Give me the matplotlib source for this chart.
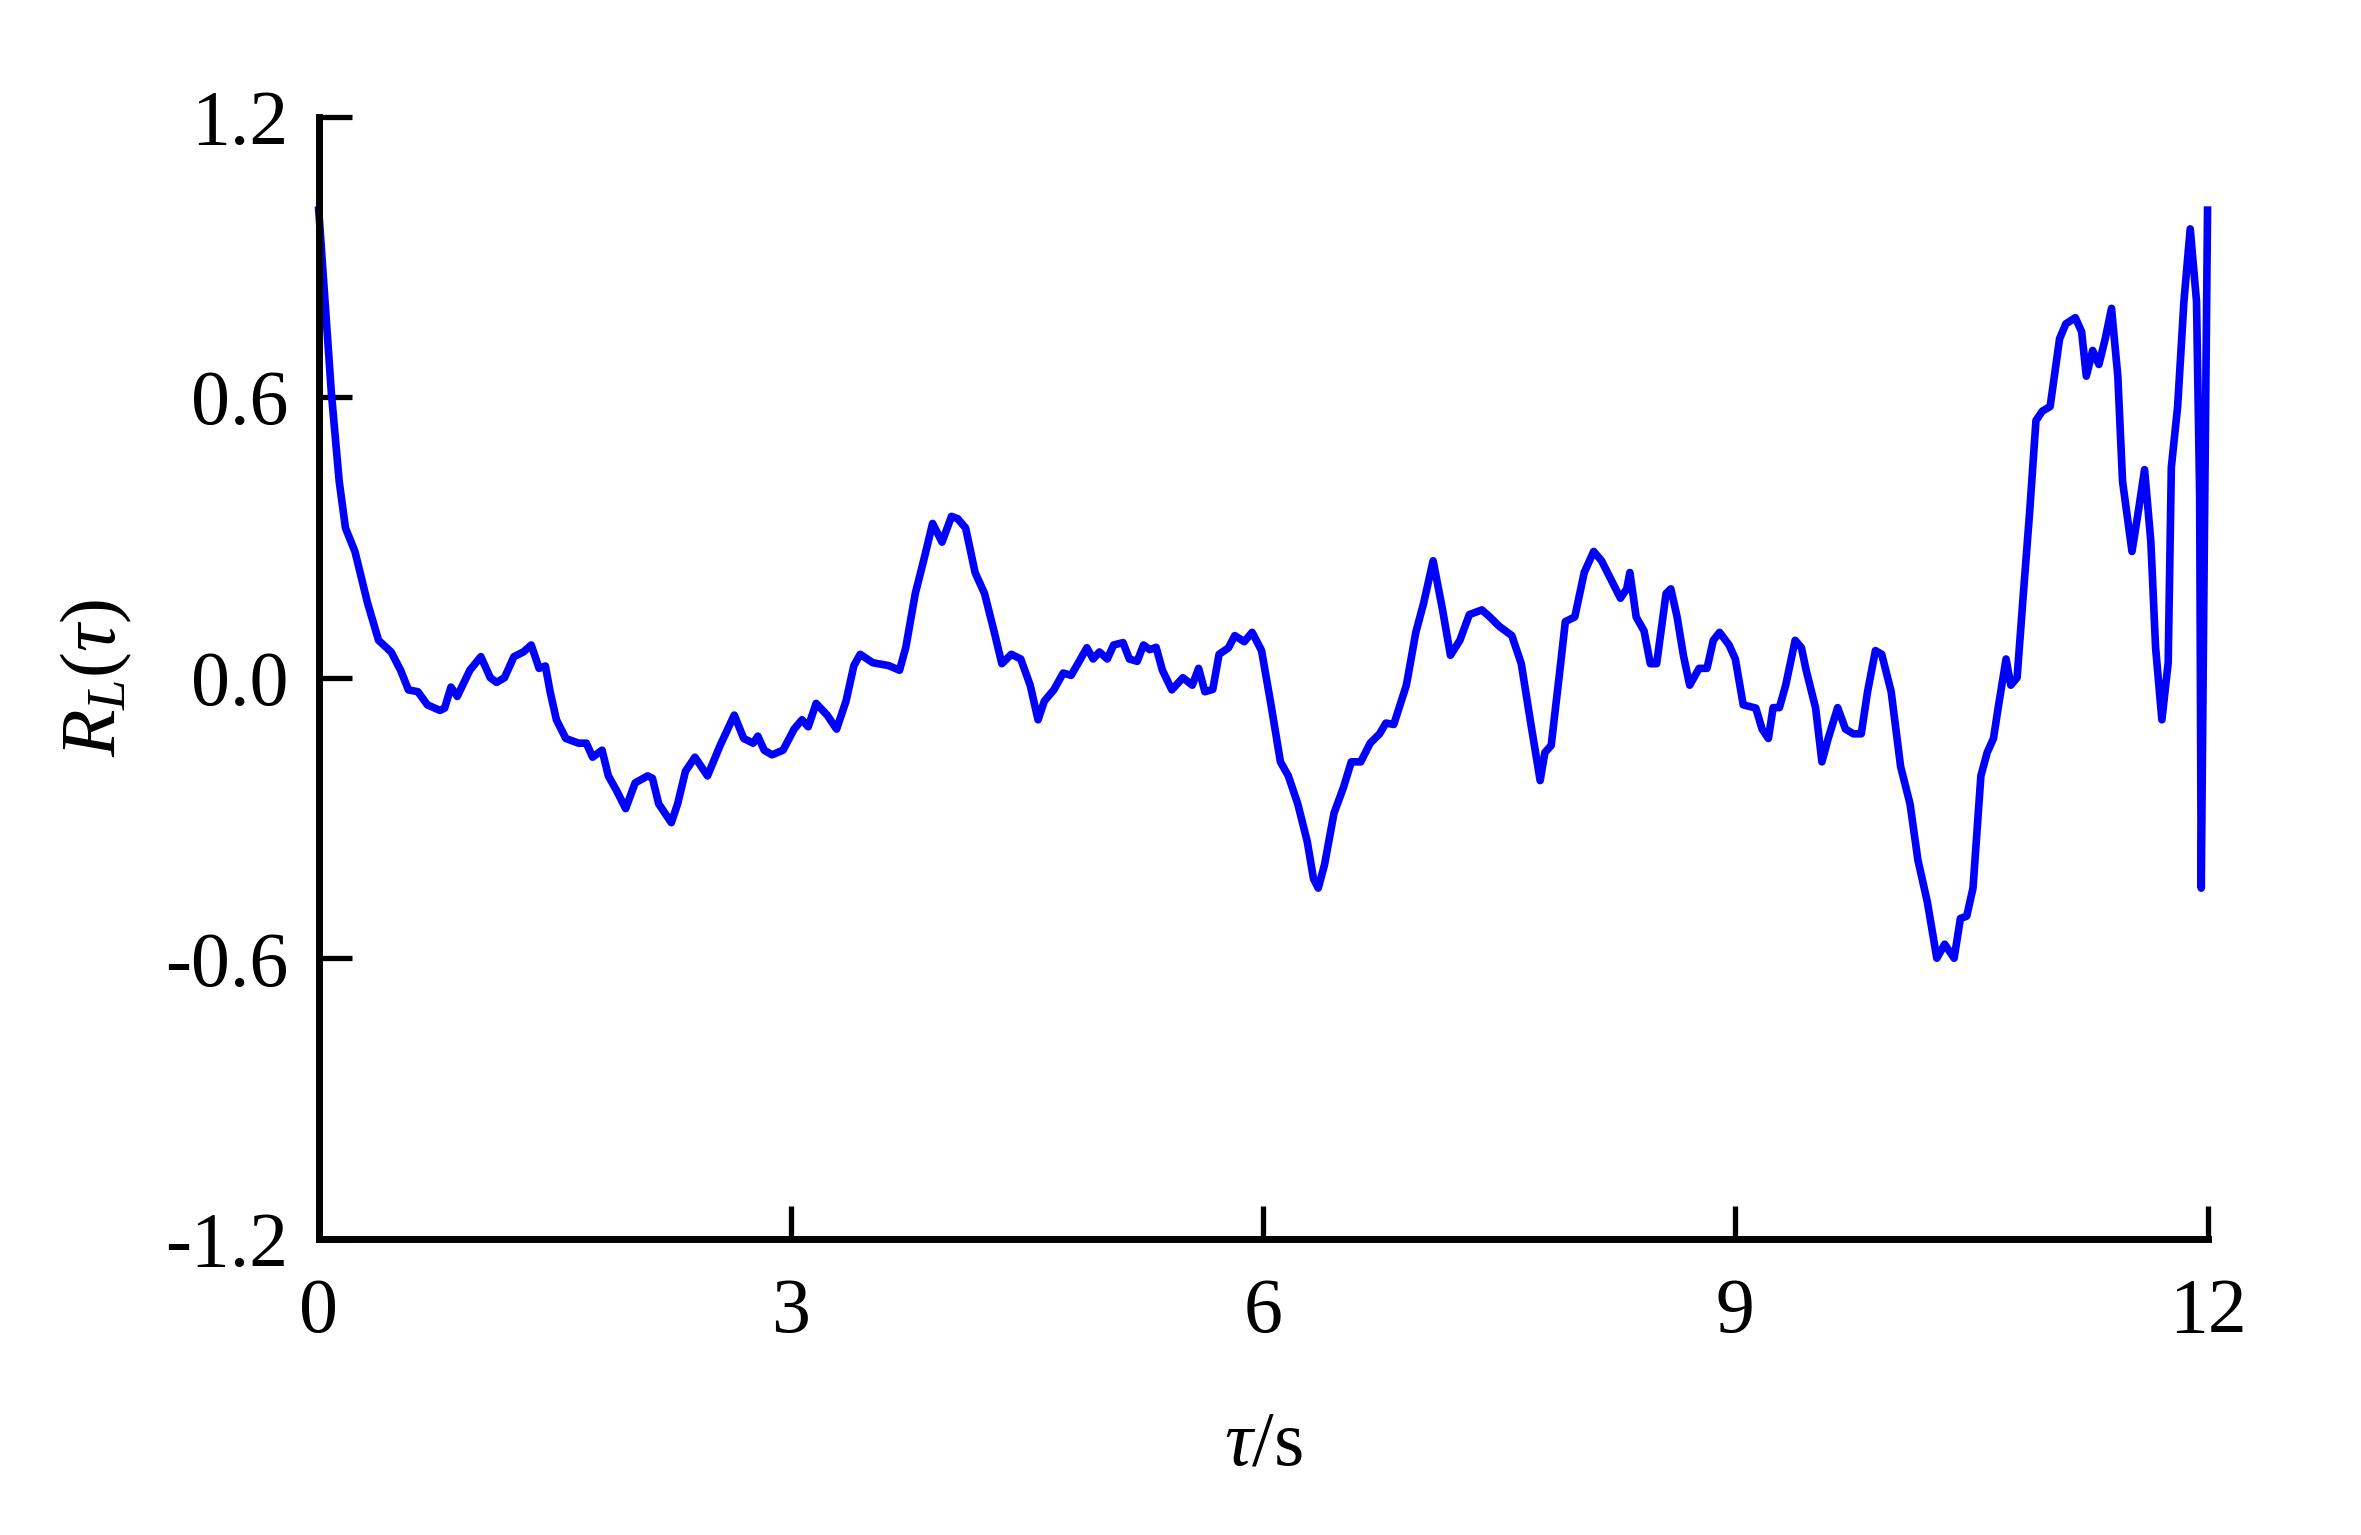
import matplotlib
matplotlib.use("Agg")
import matplotlib.pyplot as plt

# autocorrelation curve
tau = [0.00, 0.08, 0.13, 0.17, 0.23, 0.31, 0.38, 0.46, 0.52, 0.57, 0.63, 0.69, 0.77, 0.80, 0.84, 0.88,
       0.96, 1.03, 1.09, 1.13, 1.18, 1.24, 1.30, 1.35, 1.40, 1.44, 1.47, 1.51, 1.57, 1.65, 1.70, 1.74,
       1.80, 1.84, 1.89, 1.95, 2.01, 2.09, 2.12, 2.16, 2.24, 2.28, 2.33, 2.39, 2.47, 2.55, 2.64, 2.70,
       2.76, 2.79, 2.83, 2.88, 2.95, 3.02, 3.07, 3.11, 3.16, 3.23, 3.29, 3.35, 3.40, 3.44, 3.52, 3.62,
       3.69, 3.73, 3.79, 3.85, 3.90, 3.96, 4.02, 4.06, 4.11, 4.17, 4.23, 4.29, 4.34, 4.40, 4.46, 4.52,
       4.57, 4.61, 4.67, 4.73, 4.78, 4.84, 4.88, 4.92, 4.96, 5.01, 5.05, 5.11, 5.15, 5.20, 5.24, 5.28,
       5.32, 5.36, 5.42, 5.49, 5.55, 5.59, 5.63, 5.68, 5.72, 5.78, 5.82, 5.88, 5.93, 5.99, 6.05, 6.11,
       6.16, 6.22, 6.28, 6.32, 6.35, 6.39, 6.45, 6.51, 6.56, 6.62, 6.68, 6.74, 6.78, 6.83, 6.91, 6.97,
       7.02, 7.08, 7.14, 7.19, 7.25, 7.31, 7.39, 7.44, 7.50, 7.58, 7.64, 7.70, 7.76, 7.79, 7.83, 7.89,
       7.92, 7.98, 8.04, 8.10, 8.15, 8.21, 8.27, 8.31, 8.33, 8.37, 8.42, 8.46, 8.50, 8.56, 8.59, 8.63,
       8.67, 8.71, 8.77, 8.82, 8.86, 8.90, 8.96, 9.00, 9.05, 9.13, 9.17, 9.21, 9.24, 9.28, 9.32, 9.38,
       9.42, 9.45, 9.51, 9.55, 9.59, 9.65, 9.70, 9.75, 9.80, 9.84, 9.89, 9.93, 9.99, 10.05, 10.11, 10.16,
       10.22, 10.28, 10.33, 10.39, 10.43, 10.47, 10.51, 10.56, 10.60, 10.64, 10.67, 10.72, 10.75, 10.79,
       10.83, 10.87, 10.91, 10.95, 11.00, 11.06, 11.10, 11.16, 11.20, 11.23, 11.27, 11.31, 11.35, 11.39,
       11.43, 11.46, 11.52, 11.56, 11.60, 11.64, 11.67, 11.71, 11.75, 11.77, 11.81, 11.85, 11.89, 11.93,
       11.95, 11.96, 11.98, 12.00]
r_L = [1.00, 0.61, 0.42, 0.32, 0.27, 0.16, 0.08, 0.055, 0.016, -0.026, -0.03, -0.058, -0.07, -0.065, -0.02, -0.04,
       0.016, 0.045, 0.0, -0.01, 0.0, 0.045, 0.055, 0.07, 0.02, 0.025, -0.03, -0.09, -0.13, -0.14, -0.14, -0.17,
       -0.155, -0.21, -0.24, -0.28, -0.225, -0.21, -0.215, -0.27, -0.31, -0.27, -0.20, -0.17, -0.21, -0.145, -0.08, -0.13,
       -0.14, -0.125, -0.155, -0.165, -0.155, -0.11, -0.09, -0.105, -0.055, -0.08, -0.11, -0.05, 0.026, 0.05, 0.032, 0.026,
       0.016, 0.065, 0.18, 0.26, 0.33, 0.29, 0.345, 0.34, 0.32, 0.225, 0.18, 0.10, 0.03, 0.05, 0.04, -0.016,
       -0.09, -0.05, -0.026, 0.01, 0.005, 0.04, 0.064, 0.04, 0.055, 0.04, 0.07, 0.075, 0.04, 0.035, 0.07, 0.06,
       0.065, 0.016, -0.026, 0.0, -0.016, 0.02, -0.03, -0.025, 0.05, 0.064, 0.09, 0.077, 0.097, 0.058, -0.058, -0.18,
       -0.21, -0.27, -0.35, -0.43, -0.45, -0.40, -0.29, -0.235, -0.18, -0.18, -0.14, -0.12, -0.097, -0.10, -0.016, 0.097,
       0.16, 0.25, 0.145, 0.048, 0.08, 0.135, 0.145, 0.13, 0.11, 0.09, 0.03, -0.097, -0.22, -0.16, -0.145, 0.03,
       0.12, 0.13, 0.225, 0.27, 0.25, 0.21, 0.17, 0.19, 0.225, 0.13, 0.10, 0.03, 0.03, 0.18, 0.19, 0.13,
       0.048, -0.016, 0.02, 0.02, 0.08, 0.097, 0.07, 0.04, -0.058, -0.065, -0.11, -0.13, -0.064, -0.064, -0.016, 0.08,
       0.064, 0.016, -0.065, -0.18, -0.13, -0.064, -0.11, -0.12, -0.12, -0.03, 0.058, 0.05, -0.03, -0.19, -0.27, -0.39,
       -0.48, -0.60, -0.57, -0.60, -0.515, -0.51, -0.45, -0.21, -0.16, -0.13, -0.064, 0.04, -0.016, 0.0,
       0.18, 0.355, 0.55, 0.57, 0.58, 0.725, 0.757, 0.77, 0.74, 0.645, 0.70, 0.67, 0.725, 0.79,
       0.645, 0.42, 0.27, 0.355, 0.445, 0.29, 0.064, -0.09, 0.032, 0.45, 0.58, 0.805, 0.96, 0.805,
       0.39, -0.45, 0.30, 1.00]

x_ticks = [0, 3, 6, 9, 12]
y_ticks = [-1.2, -0.6, 0.0, 0.6, 1.2]

plt.rcParams['font.family'] = ['Liberation Serif', 'DejaVu Serif']
plt.rcParams['mathtext.fontset'] = 'custom'
plt.rcParams['mathtext.rm'] = 'Liberation Serif'
plt.rcParams['mathtext.it'] = 'Liberation Serif:italic'
plt.rcParams['axes.unicode_minus'] = False

fig = plt.figure(figsize=(23.61, 15.35), dpi=100)
ax = fig.add_axes([0.135, 0.193, 0.8, 0.731])

ax.plot(tau, r_L, color='#0000ff', lw=5.5, solid_joinstyle='round', clip_on=False)

ax.set_xlim(0, 12)
ax.set_ylim(-1.2, 1.2)
ax.set_xticks(x_ticks)
ax.set_yticks(y_ticks)
ax.set_xticklabels([str(v) for v in x_ticks])
ax.set_yticklabels(['%.1f' % v for v in y_ticks])

ax.spines['top'].set_visible(False)
ax.spines['right'].set_visible(False)
for s in ['left', 'bottom']:
    ax.spines[s].set_linewidth(5.0)
ax.tick_params(direction='in', length=24, width=3.8, labelsize=56, pad=22)
ax.tick_params(axis='x', pad=28)

ax.set_xlabel(r'$\tau$/s', fontsize=56, labelpad=44)
ax.set_ylabel(r'$R_L(\tau)$', fontsize=56, labelpad=22)

fig.savefig('out.png', dpi=100)
